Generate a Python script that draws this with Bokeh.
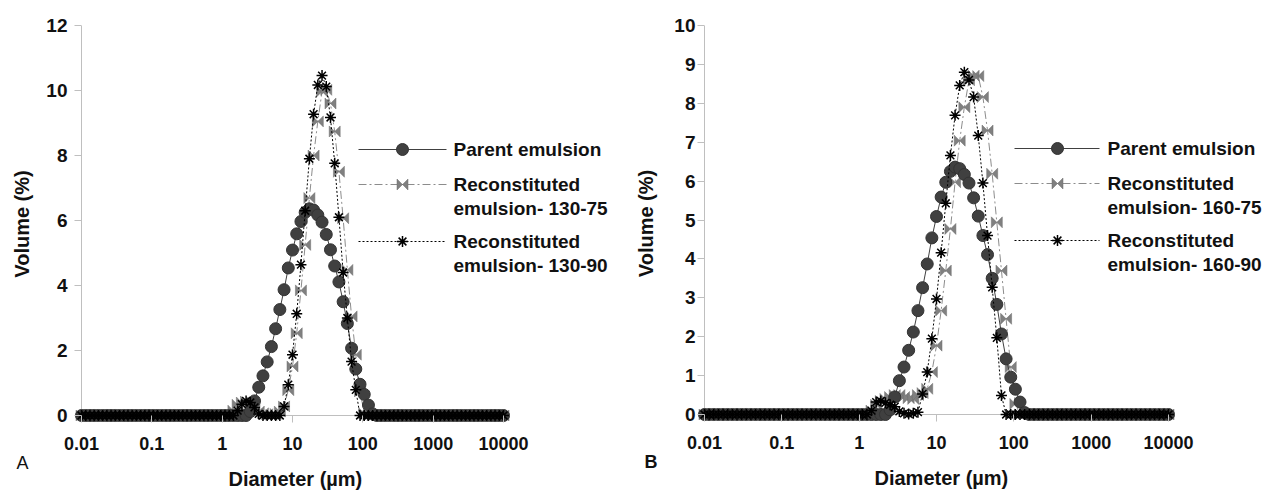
import math
from bokeh.plotting import figure
from bokeh.models import Range1d, FixedTicker, Label, Title
from bokeh.layouts import row
from bokeh.embed import file_html
from bokeh.resources import INLINE

# ---------------- data ----------------
diameter = [
    0.01, 0.01148, 0.01318, 0.01514, 0.01738, 0.01995, 0.02291, 0.0263, 0.0302, 0.03467,
    0.03981, 0.04571, 0.05248, 0.06026, 0.06918, 0.07943, 0.0912, 0.1047, 0.1202, 0.138,
    0.1585, 0.182, 0.2089, 0.2399, 0.2754, 0.3162, 0.3631, 0.4169, 0.4786, 0.5495,
    0.631, 0.7244, 0.8318, 0.955, 1.096, 1.259, 1.445, 1.66, 1.905, 2.188,
    2.512, 2.884, 3.311, 3.802, 4.365, 5.012, 5.754, 6.607, 7.586, 8.71,
    10.0, 11.48, 13.18, 15.14, 17.38, 19.95, 22.91, 26.3, 30.2, 34.67,
    39.81, 45.71, 52.48, 60.26, 69.18, 79.43, 91.2, 104.7, 120.2, 138.0,
    158.5, 182.0, 208.9, 239.9, 275.4, 316.2, 363.1, 416.9, 478.6, 549.5,
    631.0, 724.4, 831.8, 955.0, 1096, 1259, 1445, 1660, 1905, 2188,
    2512, 2884, 3311, 3802, 4365, 5012, 5754, 6607, 7586, 8710,
    10000,
]

parent = [
    0, 0, 0, 0, 0, 0, 0, 0, 0, 0,
    0, 0, 0, 0, 0, 0, 0, 0, 0, 0,
    0, 0, 0, 0, 0, 0, 0, 0, 0, 0,
    0, 0, 0, 0, 0, 0, 0, 0, 0, 0,
    0.12, 0.45, 0.87, 1.22, 1.65, 2.12, 2.67, 3.26, 3.87, 4.54,
    5.09, 5.59, 5.97, 6.25, 6.36, 6.32, 6.17, 5.95, 5.57, 5.1,
    4.6, 4.11, 3.5, 2.83, 2.07, 1.43, 0.96, 0.65, 0.32, 0.05,
    0, 0, 0, 0, 0, 0, 0, 0, 0, 0,
    0, 0, 0, 0, 0, 0, 0, 0, 0, 0,
    0, 0, 0, 0, 0, 0, 0, 0, 0, 0,
    0,
]

recon_130_75 = [
    0, 0, 0, 0, 0, 0, 0, 0, 0, 0,
    0, 0, 0, 0, 0, 0, 0, 0, 0, 0,
    0, 0, 0, 0, 0, 0, 0, 0, 0, 0,
    0, 0, 0, 0, 0, 0, 0.15, 0.33, 0.4, 0.43,
    0.3, 0.2, 0.12, 0.07, 0.04, 0.02, 0.05, 0.12, 0.28, 0.78,
    1.51, 2.53, 3.85, 5.25, 6.69, 8.0, 9.05, 9.97, 10.02, 9.6,
    8.74, 7.5, 6.07, 4.48, 3.05, 1.87, 0.74, 0.07, 0, 0,
    0, 0, 0, 0, 0, 0, 0, 0, 0, 0,
    0, 0, 0, 0, 0, 0, 0, 0, 0, 0,
    0, 0, 0, 0, 0, 0, 0, 0, 0, 0,
    0,
]

recon_130_90 = [
    0, 0, 0, 0, 0, 0, 0, 0, 0, 0,
    0, 0, 0, 0, 0, 0, 0, 0, 0, 0,
    0, 0, 0, 0, 0, 0, 0, 0, 0, 0,
    0, 0, 0, 0, 0, 0, 0, 0.15, 0.35, 0.45,
    0.4, 0.25, 0.05, 0, 0, 0, 0, 0, 0.28, 0.95,
    1.87, 3.13, 4.64, 6.3, 7.9, 9.27, 10.17, 10.46, 10.12, 9.17,
    7.76, 6.1, 4.4, 3.0, 1.66, 0.79, 0, 0, 0, 0,
    0, 0, 0, 0, 0, 0, 0, 0, 0, 0,
    0, 0, 0, 0, 0, 0, 0, 0, 0, 0,
    0, 0, 0, 0, 0, 0, 0, 0, 0, 0,
    0,
]

recon_160_75 = [
    0, 0, 0, 0, 0, 0, 0, 0, 0, 0,
    0, 0, 0, 0, 0, 0, 0, 0, 0, 0,
    0, 0, 0, 0, 0, 0, 0, 0, 0, 0,
    0, 0, 0, 0, 0, 0, 0.1, 0.25, 0.35, 0.4,
    0.45, 0.5, 0.5, 0.45, 0.42, 0.4, 0.5, 0.55, 0.66, 1.09,
    1.77, 2.67, 3.7, 4.77, 5.97, 7.04, 7.9, 8.59, 8.71, 8.7,
    8.16, 7.3, 6.19, 4.94, 3.7, 2.46, 1.22, 0.27, 0, 0,
    0, 0, 0, 0, 0, 0, 0, 0, 0, 0,
    0, 0, 0, 0, 0, 0, 0, 0, 0, 0,
    0, 0, 0, 0, 0, 0, 0, 0, 0, 0,
    0,
]

recon_160_90 = [
    0, 0, 0, 0, 0, 0, 0, 0, 0, 0,
    0, 0, 0, 0, 0, 0, 0, 0, 0, 0,
    0, 0, 0, 0, 0, 0, 0, 0, 0, 0,
    0, 0, 0, 0, 0, 0, 0.1, 0.32, 0.35, 0.3,
    0.25, 0.2, 0.08, 0.03, 0.01, 0.03, 0.06, 0.53, 1.09, 1.95,
    2.97, 4.16, 5.43, 6.66, 7.69, 8.46, 8.8, 8.6, 8.16, 7.17,
    5.95, 4.6, 3.27, 1.97, 0.49, 0, 0, 0, 0, 0,
    0, 0, 0, 0, 0, 0, 0, 0, 0, 0,
    0, 0, 0, 0, 0, 0, 0, 0, 0, 0,
    0, 0, 0, 0, 0, 0, 0, 0, 0, 0,
    0,
]

x_ticks = [0.01, 0.1, 1, 10, 100, 1000, 10000]
x_tick_labels = ["0.01", "0.1", "1", "10", "100", "1000", "10000"]
y_ticks_a = [0, 2, 4, 6, 8, 10, 12]
y_ticks_b = [0, 1, 2, 3, 4, 5, 6, 7, 8, 9, 10]
legend_a = [["Parent emulsion"], ["Reconstituted", "emulsion- 130-75"], ["Reconstituted", "emulsion- 130-90"]]
legend_b = [["Parent emulsion"], ["Reconstituted", "emulsion- 160-75"], ["Reconstituted", "emulsion- 160-90"]]
x_title = "Diameter (µm)"
y_title = "Volume (%)"

FONT = "Liberation Sans"
PAGE_H = 494
TXT = "#111111"


def make_panel(cfg):
    pad = 7
    lx0 = math.log10(x_ticks[0])
    lx1 = math.log10(x_ticks[-1])
    ppd = (cfg["ax_right"] - cfg["ax_left"]) / (lx1 - lx0)
    ppu = (cfg["ax_bottom"] - cfg["ax_top"]) / cfg["y_max"]

    def dx(cx):
        return 10 ** (lx0 + (cx - cfg["ax_left"]) / ppd)

    def dy(cy):
        return (cfg["ax_bottom"] - cy) / ppu

    frame_left = cfg["ax_left"] - pad
    frame_right = cfg["fig_x"] + cfg["fig_w"]
    p = figure(
        x_axis_type="log",
        x_range=Range1d(dx(frame_left), dx(frame_right)),
        y_range=Range1d(dy(cfg["ax_bottom"] + pad), cfg["y_max"]),
        frame_width=frame_right - frame_left,
        frame_height=cfg["ax_bottom"] + pad - cfg["ax_top"],
        min_border_left=frame_left - cfg["fig_x"],
        min_border_right=0,
        min_border_top=cfg["ax_top"],
        min_border_bottom=PAGE_H - cfg["ax_bottom"] - pad,
        toolbar_location=None,
        output_backend="svg",
    )
    p.outline_line_color = None
    p.xgrid.grid_line_color = None
    p.ygrid.grid_line_color = None
    p.background_fill_color = "white"
    p.border_fill_color = "white"

    ax = p.xaxis[0]
    ax.ticker = FixedTicker(ticks=x_ticks)
    ax.bounds = (x_ticks[0], x_ticks[-1])
    ax.major_label_overrides = {t: l for t, l in zip(x_ticks, x_tick_labels)}
    ax.axis_line_color = None
    ax.major_tick_in = pad
    ax.major_tick_out = 0
    ax.major_tick_line_color = "#bfbfbf"
    ax.minor_tick_line_color = None
    ax.major_label_standoff = cfg["x_standoff"]
    ax.major_label_text_font = FONT
    ax.major_label_text_font_style = "bold"
    ax.major_label_text_font_size = "18px"
    ax.major_label_text_color = TXT

    ay = p.yaxis[0]
    ay.ticker = FixedTicker(ticks=cfg["y_ticks"])
    ay.axis_line_color = None
    ay.major_tick_in = pad
    ay.major_tick_out = 0
    ay.major_tick_line_color = "#bfbfbf"
    ay.minor_tick_line_color = None
    ay.major_label_standoff = cfg["y_standoff"]
    ay.major_label_text_font = FONT
    ay.major_label_text_font_style = "bold"
    ay.major_label_text_font_size = "19px"
    ay.major_label_text_color = TXT
    ay.axis_label = y_title
    ay.axis_label_standoff = cfg["ytitle_standoff"]
    ay.axis_label_text_font = FONT
    ay.axis_label_text_font_style = "bold"
    ay.axis_label_text_font_size = "20px"
    ay.axis_label_text_color = TXT

    # panel letter and x title, stacked below the x axis
    p.add_layout(Title(text=cfg["letter"][0], align="left", offset=cfg["letter"][1] - frame_left,
                       vertical_align="middle", standoff=-1, text_font=FONT,
                       text_font_style=cfg["letter"][2], text_font_size="18px",
                       text_color=TXT), "below")
    p.add_layout(Title(text=x_title, align="left", offset=cfg["xtitle_left"] - frame_left,
                       vertical_align="middle", standoff=-14, text_font=FONT,
                       text_font_style="bold", text_font_size="20px",
                       text_color=TXT), "below")

    # axis lines at the data origin
    p.line([x_ticks[0], x_ticks[0]], [0, cfg["y_max"]], line_color="#bfbfbf", line_width=1)
    p.line([x_ticks[0], x_ticks[-1]], [0, 0], line_color="#bfbfbf", line_width=1)

    fx = 10 ** (5.5 / ppd)
    fy = 5.5 / ppu

    def bowties(xs, ys):
        bx = [[x / fx, x * fx, x * fx, x / fx] for x in xs]
        by = [[y + fy, y - fy, y + fy, y - fy] for y in ys]
        return bx, by

    s75, s90 = cfg["series"]
    c75_line, c75_fill = "#8c8c8c", "#808080"
    cp = "#404040"

    # series (drawn: 75, parent, 90)
    p.line(diameter, s75, line_color=c75_line, line_width=1, line_dash="8 3 2 3")
    bx, by = bowties(diameter, s75)
    p.patches(bx, by, fill_color=c75_fill, line_color="#6e6e6e", line_width=0.5)

    p.line(diameter, parent, line_color=cp, line_width=1)
    p.scatter(diameter, parent, marker="circle", size=12, fill_color=cp, line_color="#333333")

    p.line(diameter, s90, line_color="#000000", line_width=1, line_dash="2 2")
    p.scatter(diameter, s90, marker="asterisk", size=11, line_color="#000000", line_width=1.5)

    # legend
    lg = cfg["legend_geom"]
    rows = lg["rows"]
    lx = [dx(lg["x0"]), dx(lg["x1"])]
    mx = dx(lg["xm"])
    yy = dy(rows[0])
    p.line(lx, [yy, yy], line_color=cp, line_width=1)
    p.scatter([mx], [yy], marker="circle", size=12, fill_color=cp, line_color="#333333")
    yy = dy(rows[1])
    p.line(lx, [yy, yy], line_color=c75_line, line_width=1, line_dash="8 3 2 3")
    bx, by = bowties([mx], [yy])
    p.patches(bx, by, fill_color=c75_fill, line_color="#6e6e6e", line_width=0.5)
    yy = dy(rows[2])
    p.line(lx, [yy, yy], line_color="#000000", line_width=1, line_dash="2 2")
    p.scatter([mx], [yy], marker="asterisk", size=11, line_color="#000000", line_width=1.5)

    line_gap = lg["line_gap"]
    for lines, cy in zip(cfg["legend"], rows):
        for k, txt in enumerate(lines):
            p.add_layout(Label(x=dx(lg["tx"]), y=dy(cy + k * line_gap), text=txt,
                               text_font=FONT, text_font_style="bold", text_font_size="19px",
                               text_color=TXT, text_align="left", text_baseline="middle"))
    return p


panel_a = make_panel(dict(
    fig_x=0, fig_w=632, ax_left=81, ax_right=503, ax_top=24, ax_bottom=414,
    y_max=12, y_ticks=y_ticks_a, x_standoff=14, y_standoff=7, ytitle_standoff=10,
    series=(recon_130_75, recon_130_90), legend=legend_a,
    legend_geom=dict(x0=358, x1=446, xm=402, tx=453, rows=[148, 183, 240], line_gap=24),
    xtitle_left=228, letter=("A", 16, "normal"),
))

panel_b = make_panel(dict(
    fig_x=632, fig_w=631, ax_left=702, ax_right=1166, ax_top=25, ax_bottom=414,
    y_max=10, y_ticks=y_ticks_b, x_standoff=14, y_standoff=2, ytitle_standoff=14,
    series=(recon_160_75, recon_160_90), legend=legend_b,
    legend_geom=dict(x0=1012, x1=1097, xm=1055, tx=1105, rows=[148, 183, 240], line_gap=24),
    xtitle_left=872, letter=("B", 642, "bold"),
))

layout = row(panel_a, panel_b)
open("out.html", "w").write(file_html(layout, INLINE))
